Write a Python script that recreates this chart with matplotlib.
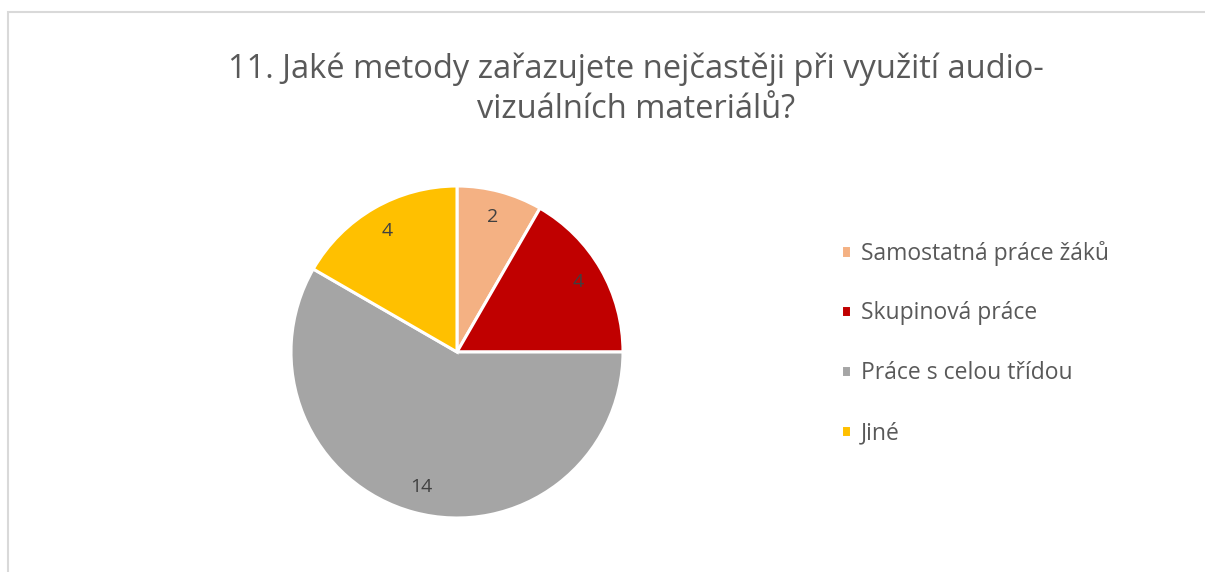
import matplotlib
matplotlib.use("Agg")
import matplotlib.pyplot as plt
from matplotlib.patches import Rectangle

categories = ["Samostatná práce žáků", "Skupinová práce", "Práce s celou třídou", "Jiné"]
values = [2, 4, 14, 4]
colors = ["#F4B183", "#C00000", "#A5A5A5", "#FFC000"]
title = "11. Jaké metody zařazujete nejčastěji při využití audio-\nvizuálních materiálů?"

plt.rcParams['font.family'] = ['Open Sans', 'DejaVu Sans']
W, H = 1205, 572
fig = plt.figure(figsize=(W / 100, H / 100), dpi=100)
fig.patch.set_facecolor("white")

# chart border (left and top visible)
fig.add_artist(Rectangle((8 / W, -0.05), 1.2, 1 - 12 / H + 0.05, transform=fig.transFigure,
                         fill=False, edgecolor="#D9D9D9", linewidth=1.5))

cx, cy, r = 457, 352, 166
ax = fig.add_axes([(cx - r) / W, (H - cy - r) / H, 2 * r / W, 2 * r / H])
wedges, texts = ax.pie(values, colors=colors, startangle=90, counterclock=False,
                       labels=[str(v) for v in values], labeldistance=0.84,
                       wedgeprops=dict(edgecolor="white", linewidth=2.2),
                       textprops=dict(color="#404040", fontsize=14))
for t in texts:
    t.set_ha("center")
    t.set_va("center")
ax.set_xlim(-1, 1)
ax.set_ylim(-1, 1)
ax.set_aspect("auto")
ax.axis("off")

fig.text(636 / W, 1 - 89 / H, title, ha="center", va="center",
         fontsize=23.5, color="#595959", linespacing=1.3)

leg = fig.legend(wedges, categories, loc="upper left", bbox_to_anchor=(820 / W, 1 - 220 / H),
                 frameon=False, fontsize=16.5, labelcolor="#595959",
                 handlelength=0.45, handleheight=0.45, handletextpad=0.45, labelspacing=1.56)

fig.savefig("out.png", dpi=100, facecolor="white")
